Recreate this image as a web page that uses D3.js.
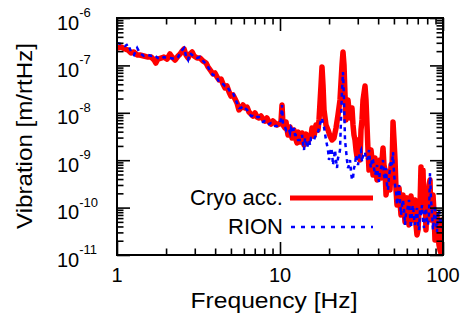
<!DOCTYPE html>
<html>
<head>
<meta charset="utf-8">
<script src="https://cdn.jsdelivr.net/npm/d3@7"></script>
<style>
  html, body { margin: 0; padding: 0; background: #fff; }
  svg { display: block; }
  text { font-family: "Liberation Sans", Arial, Helvetica, sans-serif; fill: #000; }
</style>
</head>
<body>
<svg id="chart" width="469" height="322"></svg>
<script>
// ---------------- data ----------------
const seriesNames = ["Cryo acc.", "RION"];

// Cryo accelerometer spectrum (frequency in Hz, amplitude in m/rtHz)
const cryoFreq = [1.00,1.06,1.12,1.17,1.22,1.27,1.33,1.38,1.46,1.55,1.62,1.69,1.73,1.78,1.86,1.94,2.03,2.11,2.18,2.27,2.37,2.44,2.51,2.58,2.65,2.73,2.80,2.89,2.97,3.10,3.23,3.37,3.52,3.62,3.77,3.88,3.99,4.11,4.23,4.35,4.47,4.60,4.73,4.87,5.00,5.15,5.30,5.45,5.60,5.76,5.93,6.10,6.28,6.45,6.64,6.83,7.03,7.23,7.43,7.65,7.87,8.09,8.32,8.56,8.81,9.06,9.32,9.59,9.86,10.14,10.29,10.43,10.73,11.04,11.36,11.68,12.02,12.36,12.72,13.08,13.46,13.84,14.24,14.64,15.06,15.50,15.94,16.40,16.87,17.35,17.85,18.10,18.36,18.62,19.15,19.70,20.27,20.85,21.44,22.06,22.69,23.34,24.01,24.35,24.70,25.05,25.76,26.50,27.27,28.05,28.85,29.68,30.53,31.40,32.30,33.23,33.70,34.67,35.66,36.69,37.74,38.82,39.93,41.08,42.26,42.86,44.09,45.35,46.65,47.98,49.36,50.06,51.50,52.97,54.49,56.05,57.66,59.31,61.01,62.76,64.56,66.41,68.31,70.27,72.28,73.28,75.39,77.55,79.77,82.06,83.23,85.61,88.07,90.59,93.19,95.86,97.22,98.60,100,
  10.89,11.20,11.52,11.85,12.18,12.54,12.90,13.27,13.65,14.04,14.44,14.85,15.28,15.72,16.17,16.63,17.11,
  25.40,26.13,26.88,27.65,28.44,29.27,30.10,30.97,31.85,
  35.16,36.17,37.21,38.27,39.37,40.50,41.66,43.45,44.72,45.99,47.31,48.66,50.78,
  52.23,53.73,55.26,56.85,58.48,60.15,61.87,63.65,65.46,67.34,69.27,71.26,74.33,76.45,78.64,80.91,84.40,86.83,89.30,91.88,94.52];
const cryoVal = [2.33e-7,2.44e-7,2.22e-7,2.11e-7,1.83e-7,1.92e-7,1.66e-7,1.66e-7,1.58e-7,1.50e-7,1.50e-7,1.30e-7,1.12e-7,1.36e-7,1.43e-7,1.50e-7,1.36e-7,1.74e-7,1.50e-7,1.30e-7,1.58e-7,1.74e-7,2.01e-7,2.22e-7,1.66e-7,1.43e-7,1.74e-7,1.92e-7,1.58e-7,1.43e-7,1.43e-7,1.24e-7,1.12e-7,9.25e-8,7.62e-8,6.59e-8,6.92e-8,5.69e-8,4.92e-8,5.16e-8,4.05e-8,3.34e-8,3.67e-8,2.75e-8,2.26e-8,2.38e-8,1.95e-8,1.61e-8,1.15e-8,1.26e-8,1.46e-8,1.26e-8,1.32e-8,1.04e-8,9.44e-9,8.55e-9,9.9e-9,8.15e-9,7.77e-9,8.55e-9,7.40e-9,6.71e-9,7.77e-9,6.4e-9,5.80e-9,6.71e-9,6.1e-9,5.53e-9,5.80e-9,6.4e-9,1.46e-8,5.53e-9,4.78e-9,4.55e-9,4.13e-9,3.94e-9,3.57e-9,3.24e-9,2.31e-9,2.94e-9,3.09e-9,2.67e-9,3.09e-9,2.94e-9,2.80e-9,3.24e-9,3.75e-9,4.13e-9,4.55e-9,7.05e-9,3.85e-8,9.25e-8,3.85e-8,1.15e-8,5.53e-9,4.34e-9,3.24e-9,2.67e-9,2.94e-9,4.78e-9,9.0e-9,1.86e-8,1.02e-7,1.92e-7,1.02e-7,2.38e-8,1.04e-8,1.15e-8,1.04e-8,5.53e-9,2.67e-9,1.17e-9,1.81e-9,4.34e-9,1.86e-8,3.67e-8,1.86e-8,1.64e-9,1.17e-9,1.01e-9,7.9e-10,6.2e-10,7.55e-10,1.01e-9,1.01e-9,1.81e-9,6.2e-10,2.72e-10,3.82e-10,7.9e-10,6.4e-9,2.67e-9,2.35e-10,1.67e-10,1.31e-10,8.9e-11,1.03e-10,1.45e-10,8.07e-11,1.13e-10,8.9e-11,1.25e-10,4.30e-11,3.37e-11,1.13e-10,7.2e-10,6.2e-10,1.85e-10,1.45e-10,3.0e-10,3.82e-10,1.13e-10,8.07e-11,4.30e-11,2.64e-11,1.27e-11,1.10e-11,5.47e-11,2.64e-11,
  6.4e-9,3.40e-9,5.01e-9,2.94e-9,4.34e-9,2.67e-9,3.94e-9,2.42e-9,3.75e-9,2.09e-9,3.57e-9,2.42e-9,3.40e-9,4.78e-9,3.24e-9,5.53e-9,4.34e-9,
  7.05e-9,1.86e-8,7.77e-9,1.26e-8,3.40e-9,1.64e-9,2.67e-9,1.01e-9,7.05e-9,
  6.2e-10,1.64e-9,4.87e-10,1.11e-9,3.82e-10,7.9e-10,4.21e-10,7.9e-10,1.85e-10,5.64e-10,2.35e-10,6.2e-10,1.01e-9,
  1.13e-10,2.59e-10,6.98e-11,1.85e-10,4.97e-11,1.60e-10,4.30e-11,1.76e-10,5.47e-11,1.45e-10,2.64e-11,8.9e-11,1.85e-10,8.9e-11,3.37e-11,1.45e-10,5.47e-11,1.85e-10,2.07e-11,6.98e-11,1.63e-11];

// RION seismometer spectrum (frequency in Hz, amplitude in m/rtHz)
const rionFreq = [1.00,1.06,1.12,1.17,1.22,1.27,1.33,1.38,1.46,1.55,1.62,1.69,1.78,1.86,1.94,2.03,2.11,2.27,2.37,2.44,2.51,2.58,2.65,2.73,2.80,2.89,2.97,3.10,3.23,3.37,3.52,3.62,3.77,3.88,3.99,4.11,4.23,4.35,4.47,4.60,4.73,4.87,5.00,5.15,5.30,5.45,5.60,5.76,5.93,6.10,6.28,6.45,6.64,6.83,7.03,7.23,7.43,7.65,7.87,8.09,8.32,8.56,8.81,9.06,9.32,9.59,9.86,10.14,10.29,10.43,10.73,11.04,11.36,11.68,12.02,12.36,12.72,13.08,13.46,13.84,14.24,14.64,15.06,15.50,15.94,16.40,16.87,17.35,17.85,18.10,18.36,18.62,19.15,19.70,20.27,20.85,21.44,22.06,22.69,23.34,23.67,24.01,24.35,24.70,25.05,25.76,26.50,27.27,28.05,28.85,29.68,30.53,31.40,32.30,33.23,33.70,34.67,35.66,36.69,37.74,38.82,39.93,41.08,42.26,42.86,44.09,45.35,46.65,47.98,49.36,50.06,51.50,52.97,54.49,56.05,57.66,59.31,61.01,62.76,64.56,66.41,68.31,70.27,72.28,73.28,75.39,77.55,79.77,82.06,83.23,85.61,88.07,90.59,93.19,95.86,98.60,100,
  10.89,11.52,12.18,12.90,13.65,14.04,14.44,15.28,16.17,17.11,
  19.43,19.98,20.56,21.14,21.75,22.37,23.01,
  25.40,26.13,26.88,27.65,28.44,29.27,30.10,30.97,31.85,
  35.16,36.17,37.21,38.27,39.37,40.50,41.66,43.45,44.72,45.99,47.31,48.66,50.78,
  52.23,53.73,55.26,56.85,58.48,60.15,61.87,63.65,65.46,67.34,69.27,71.26,74.33,76.45,78.64,80.91,84.40,86.83,89.30,91.88,94.52];
const rionVal = [2.97e-7,2.83e-7,2.56e-7,2.83e-7,1.92e-7,1.66e-7,2.33e-7,1.83e-7,1.58e-7,1.66e-7,1.58e-7,1.66e-7,1.43e-7,1.36e-7,1.50e-7,1.43e-7,1.43e-7,1.36e-7,1.50e-7,1.83e-7,2.11e-7,2.33e-7,1.58e-7,1.30e-7,1.83e-7,1.66e-7,1.50e-7,1.43e-7,1.50e-7,1.24e-7,1.07e-7,9.25e-8,7.26e-8,6.27e-8,6.27e-8,5.42e-8,4.47e-8,4.47e-8,4.05e-8,3.67e-8,3.67e-8,3.03e-8,2.62e-8,2.62e-8,2.05e-8,1.61e-8,1.26e-8,1.26e-8,1.39e-8,1.26e-8,1.15e-8,9.9e-9,8.55e-9,8.55e-9,7.77e-9,8.15e-9,8.15e-9,7.05e-9,6.4e-9,6.71e-9,6.71e-9,5.80e-9,6.1e-9,6.1e-9,5.27e-9,5.27e-9,5.80e-9,7.05e-9,1.46e-8,5.80e-9,5.01e-9,4.78e-9,4.34e-9,4.78e-9,3.75e-9,3.40e-9,3.40e-9,2.67e-9,2.67e-9,2.31e-9,2.94e-9,1.81e-9,2.67e-9,2.94e-9,2.94e-9,3.09e-9,3.40e-9,4.78e-9,7.05e-9,7.77e-9,5.80e-9,5.01e-9,2.67e-9,1.64e-9,1.29e-9,1.49e-9,1.11e-9,1.01e-9,1.11e-9,1.64e-9,7.05e-9,3.03e-8,7.26e-8,1.86e-8,2.67e-9,1.01e-9,7.9e-10,5.64e-10,4.21e-10,7.9e-10,1.01e-9,1.11e-9,1.64e-9,1.29e-9,1.49e-9,1.01e-9,1.11e-9,9.16e-10,1.11e-9,6.85e-10,5.64e-10,4.64e-10,6.2e-10,7.9e-10,1.01e-9,3.82e-10,3.0e-10,4.87e-10,1.01e-9,1.49e-9,5.37e-10,2.35e-10,1.85e-10,1.45e-10,1.13e-10,8.9e-11,7.7e-11,1.13e-10,6.98e-11,8.9e-11,6.04e-11,7.33e-11,4.97e-11,8.9e-11,6.98e-11,5.47e-11,7.7e-11,5.47e-11,6.98e-11,5.37e-10,8.07e-11,6.04e-11,4.97e-11,8.9e-11,5.47e-11,3.71e-11,6.98e-11,
  4.34e-9,3.75e-9,4.78e-9,2.67e-9,3.40e-9,1.64e-9,2.67e-9,2.09e-9,2.67e-9,3.94e-9,
  2.09e-9,1.01e-9,1.81e-9,7.9e-10,1.64e-9,6.85e-10,1.29e-9,
  1.64e-9,6.85e-10,1.01e-9,3.82e-10,6.85e-10,1.29e-9,7.9e-10,1.49e-9,9.16e-10,
  1.64e-9,6.85e-10,1.01e-9,4.87e-10,7.9e-10,3.47e-10,6.85e-10,4.87e-10,6.85e-10,2.35e-10,6.2e-10,7.9e-10,3.0e-10,
  1.13e-10,3.0e-10,6.98e-11,1.45e-10,4.30e-11,8.07e-11,1.45e-10,3.71e-11,1.13e-10,4.30e-11,9.8e-11,3.37e-11,1.13e-10,3.71e-11,9.8e-11,4.30e-11,1.45e-10,3.37e-11,1.13e-10,3.05e-11,8.9e-11];

const xTickValues = [1, 10, 100];
const xTickLabels = ["1", "10", "100"];
const yTickExponents = [-6, -7, -8, -9, -10, -11];

// ---------------- layout ----------------
const svg = d3.select("#chart");
const L = 117, R = 443, T = 18, B = 255;

const x = d3.scaleLog().domain([1, 100]).range([L, R]);
const y = d3.scaleLog().domain([1e-11, 1e-6]).range([B, T]);

const xMinor = [];
for (let d = 1; d < 100; d *= 10) for (let m = 2; m <= 9; m++) xMinor.push(m * d);
const yMinor = [];
for (let e = -11; e < -6; e++) for (let m = 2; m <= 9; m++) yMinor.push(m * Math.pow(10, e));
const yMajor = yTickExponents.map(e => Math.pow(10, e));

svg.append("clipPath").attr("id", "plotclip")
  .append("rect").attr("x", L).attr("y", T).attr("width", R - L).attr("height", B - T);

const line = d3.line().x(d => x(d[0])).y(d => y(d[1]));
const cryo = d3.sort(cryoFreq.map((f, i) => [f, cryoVal[i]]), d => d[0]);
const rion = d3.sort(rionFreq.map((f, i) => [f, rionVal[i]]), d => d[0]);

const g = svg.append("g").attr("clip-path", "url(#plotclip)");
g.append("path").datum(cryo).attr("d", line)
  .attr("fill", "none").attr("stroke", "#ff0000").attr("stroke-width", 5.5)
  .attr("stroke-linejoin", "round");
g.append("path").datum(rion).attr("d", line)
  .attr("fill", "none").attr("stroke", "#0000ff").attr("stroke-width", 2.5)
  .attr("stroke-dasharray", "4,4");

function styleAxis(sel) {
  sel.select(".domain").remove();
  sel.selectAll("line").attr("stroke", "#000").attr("stroke-width", 1.6);
  sel.selectAll("text").remove();
}
const major = 13, minor = 6.5;
svg.append("g").attr("transform", `translate(0,${B})`)
  .call(d3.axisBottom(x).tickValues(xTickValues).tickSize(-major)).call(styleAxis);
svg.append("g").attr("transform", `translate(0,${B})`)
  .call(d3.axisBottom(x).tickValues(xMinor).tickSize(-minor)).call(styleAxis);
svg.append("g").attr("transform", `translate(0,${T})`)
  .call(d3.axisTop(x).tickValues(xTickValues).tickSize(-major)).call(styleAxis);
svg.append("g").attr("transform", `translate(0,${T})`)
  .call(d3.axisTop(x).tickValues(xMinor).tickSize(-minor)).call(styleAxis);
svg.append("g").attr("transform", `translate(${L},0)`)
  .call(d3.axisLeft(y).tickValues(yMajor).tickSize(-major)).call(styleAxis);
svg.append("g").attr("transform", `translate(${L},0)`)
  .call(d3.axisLeft(y).tickValues(yMinor).tickSize(-minor)).call(styleAxis);
svg.append("g").attr("transform", `translate(${R},0)`)
  .call(d3.axisRight(y).tickValues(yMajor).tickSize(-major)).call(styleAxis);
svg.append("g").attr("transform", `translate(${R},0)`)
  .call(d3.axisRight(y).tickValues(yMinor).tickSize(-minor)).call(styleAxis);

svg.append("rect").attr("x", L).attr("y", T).attr("width", R - L).attr("height", B - T)
  .attr("fill", "none").attr("stroke", "#000").attr("stroke-width", 2);

svg.append("g").selectAll("text").data(xTickValues).join("text")
  .attr("x", d => x(d)).attr("y", B + 27)
  .attr("text-anchor", "middle").attr("font-size", 20)
  .text((d, i) => xTickLabels[i]);

const yl = svg.append("g").selectAll("text").data(yTickExponents).join("text")
  .attr("x", 57).attr("y", e => y(Math.pow(10, e)) + 11.5).attr("font-size", 20);
yl.append("tspan").text("10");
yl.append("tspan").attr("font-size", 13).attr("dy", -12.5).text(e => String(e));

svg.append("text").attr("x", 274).attr("y", 308).attr("text-anchor", "middle")
  .attr("font-size", 22).attr("textLength", 167).attr("lengthAdjust", "spacingAndGlyphs")
  .text("Frequency [Hz]");
svg.append("text").attr("transform", "translate(32,136) rotate(-90)")
  .attr("text-anchor", "middle").attr("font-size", 22)
  .attr("textLength", 186).attr("lengthAdjust", "spacingAndGlyphs")
  .text("Vibration [m/rtHz]");

const legY = [198, 227];
const lg = svg.append("g");
lg.append("text").attr("x", 283).attr("y", legY[0] + 7).attr("text-anchor", "end")
  .attr("font-size", 22).attr("textLength", 93).attr("lengthAdjust", "spacingAndGlyphs")
  .text(seriesNames[0]);
lg.append("line").attr("x1", 290).attr("x2", 373).attr("y1", legY[0]).attr("y2", legY[0])
  .attr("stroke", "#ff0000").attr("stroke-width", 5);
lg.append("text").attr("x", 283).attr("y", legY[1] + 7).attr("text-anchor", "end")
  .attr("font-size", 22).attr("textLength", 55).attr("lengthAdjust", "spacingAndGlyphs")
  .text(seriesNames[1]);
lg.append("line").attr("x1", 291).attr("x2", 373).attr("y1", legY[1]).attr("y2", legY[1])
  .attr("stroke", "#0000ff").attr("stroke-width", 2.5).attr("stroke-dasharray", "4,6");
</script>
</body>
</html>
